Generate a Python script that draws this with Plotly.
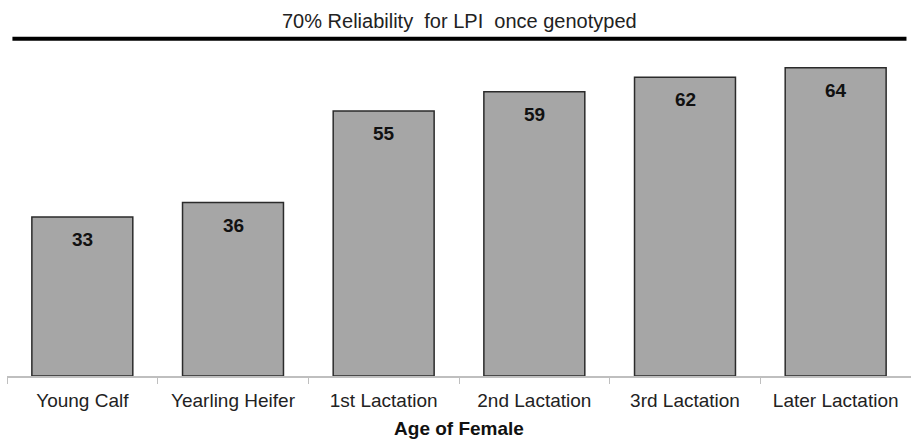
import plotly.graph_objects as go

# Average reliability (%) of parent average LPI by age of female
categories = ["Young Calf", "Yearling Heifer", "1st Lactation",
              "2nd Lactation", "3rd Lactation", "Later Lactation"]
reliability = [33, 36, 55, 59, 62, 64]
genotyped_reliability = 70
target_label = "70% Reliability  for LPI  once genotyped"
x_title = "Age of Female"

FONT = "Liberation Sans, Arial, sans-serif"

fig = go.Figure()
fig.add_trace(go.Bar(
    x=categories,
    y=reliability,
    width=0.67,
    marker=dict(color="#a6a6a6", line=dict(color="#2b2b2b", width=1.5)),
    hoverinfo="x+y",
))

# value labels just under each bar top
for cat, val in zip(categories, reliability):
    fig.add_annotation(
        x=cat, y=val, text=f"<b>{val}</b>", showarrow=False,
        yanchor="top", yshift=-10,
        font=dict(family=FONT, size=19, color="#111111"),
    )

# genotyped reliability reference line
fig.add_shape(
    type="line", xref="paper", yref="y",
    x0=0.006, x1=0.995, y0=genotyped_reliability, y1=genotyped_reliability,
    line=dict(color="black", width=4),
)
fig.add_annotation(
    xref="paper", x=0.5, y=genotyped_reliability, yanchor="bottom", yshift=5,
    text=target_label, showarrow=False,
    font=dict(family=FONT, size=20, color="#222222"),
)

fig.update_layout(
    width=911, height=442,
    margin=dict(l=7, r=0, t=20, b=66),
    plot_bgcolor="white", paper_bgcolor="white",
    showlegend=False,
    font=dict(family=FONT, color="#222222"),
    xaxis=dict(
        type="category",
        showline=True, linecolor="#bfbfbf", linewidth=1.5,
        ticks="outside", tickson="boundaries", ticklen=6, tickcolor="#bfbfbf",
        ticklabelstandoff=6,
        tickfont=dict(family=FONT, size=19, color="#222222"),
        title=dict(text=f"<b>{x_title}</b>", standoff=12,
                   font=dict(family=FONT, size=19, color="#111111")),
        showgrid=False, range=[-0.5, 5.5],
    ),
    yaxis=dict(range=[0, 73.9], visible=False, showgrid=False),
)

fig.write_html("out.html")
